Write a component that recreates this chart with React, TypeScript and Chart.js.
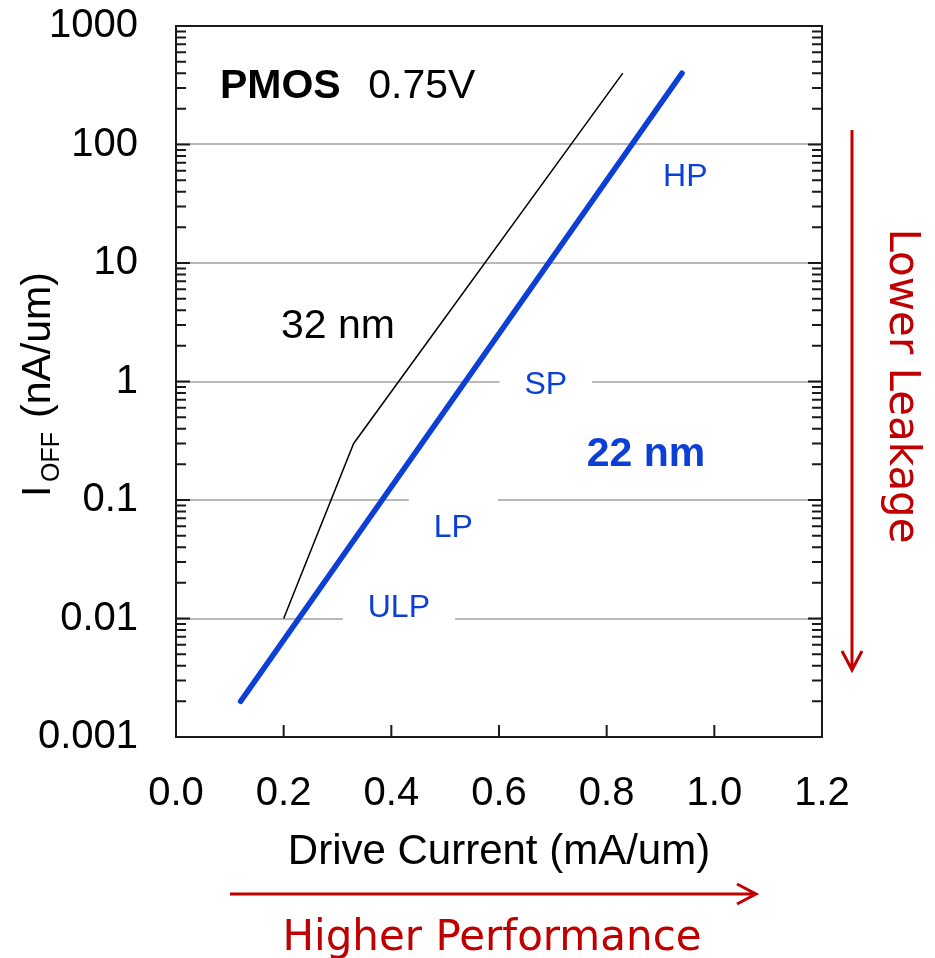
import React, { useEffect, useRef } from 'react';
import { Chart, registerables } from 'chart.js';

Chart.register(...registerables);

// ---- data ----
const xTicks = [0, 0.2, 0.4, 0.6, 0.8, 1.0, 1.2];
const yTicks = [0.001, 0.01, 0.1, 1, 10, 100, 1000];
const yTickLabels = ['0.001', '0.01', '0.1', '1', '10', '100', '1000'];

const drive32 = [0.2, 0.33, 0.83];
const ioff32 = [0.01, 0.3, 400];

const drive22 = [0.12, 0.94];
const ioff22 = [0.002, 400];

const optionLabels = ['ULP', 'LP', 'SP', 'HP'];
const optionX = [0.414, 0.515, 0.687, 0.946];
const optionY = [0.0123, 0.058, 0.93, 53];
const optionBreaksGrid = [0.01, 0.1, 1, null];

const BLUE = '#0b3fd6';
const RED = '#c00000';
const SANS = '"Liberation Sans", Arial, Helvetica, sans-serif';
const VERD = '"DejaVu Sans", Verdana, sans-serif';

const annotPlugin = {
  id: 'annot',
  beforeDatasetsDraw(chart: any) {
    const { ctx, scales } = chart;
    const x = scales.x, y = scales.y;
    ctx.save();
    ctx.fillStyle = '#ffffff';
    ctx.font = `32px ${SANS}`;
    optionLabels.forEach((t, i) => {
      const g = optionBreaksGrid[i];
      if (g == null) return;
      const cx = x.getPixelForValue(optionX[i]);
      const gy = y.getPixelForValue(g);
      const w = ctx.measureText(t).width + 50;
      ctx.fillRect(cx - w / 2, gy - 3, w, 6);
    });
    ctx.restore();
  },
  afterDatasetsDraw(chart: any) {
    const { ctx, chartArea, scales } = chart;
    const x = scales.x, y = scales.y;
    const { left, right, top, bottom } = chartArea;
    ctx.save();

    // frame
    ctx.strokeStyle = '#1a1a1a';
    ctx.lineWidth = 2;
    ctx.strokeRect(left, top, right - left, bottom - top);

    // y ticks (inside, both sides)
    ctx.beginPath();
    for (let d = 0; d < yTicks.length; d++) {
      const dec = yTicks[d];
      const py = y.getPixelForValue(dec);
      ctx.moveTo(left, py); ctx.lineTo(left + 14, py);
      ctx.moveTo(right, py); ctx.lineTo(right - 14, py);
      if (d < yTicks.length - 1) {
        for (let k = 2; k <= 9; k++) {
          const my = y.getPixelForValue(dec * k);
          ctx.moveTo(left, my); ctx.lineTo(left + 10, my);
          ctx.moveTo(right, my); ctx.lineTo(right - 10, my);
        }
      }
    }
    // x ticks (inside, bottom)
    xTicks.forEach((v) => {
      const px = x.getPixelForValue(v);
      ctx.moveTo(px, bottom); ctx.lineTo(px, bottom - 12);
    });
    ctx.stroke();

    // option labels
    ctx.fillStyle = BLUE;
    ctx.font = `32px ${SANS}`;
    ctx.textAlign = 'center';
    ctx.textBaseline = 'middle';
    optionLabels.forEach((t, i) => {
      ctx.fillText(t, x.getPixelForValue(optionX[i]), y.getPixelForValue(optionY[i]));
    });

    // 22 nm
    ctx.font = `bold 41px ${SANS}`;
    ctx.fillText('22 nm', x.getPixelForValue(0.873), y.getPixelForValue(0.24));

    // 32 nm
    ctx.fillStyle = '#000';
    ctx.font = `41px ${SANS}`;
    ctx.fillText('32 nm', x.getPixelForValue(0.301), y.getPixelForValue(2.88));

    // PMOS 0.75V
    ctx.textAlign = 'left';
    ctx.font = `bold 41px ${SANS}`;
    ctx.fillText('PMOS', x.getPixelForValue(0.0817), y.getPixelForValue(305));
    ctx.font = `41px ${SANS}`;
    ctx.fillText('0.75V', x.getPixelForValue(0.357), y.getPixelForValue(305));

    // x axis title
    ctx.textAlign = 'center';
    ctx.textBaseline = 'alphabetic';
    ctx.font = `42px ${SANS}`;
    ctx.fillText('Drive Current (mA/um)', (left + right) / 2, 864);

    // y axis title (rotated)
    ctx.save();
    ctx.translate(50, 497);
    ctx.rotate(-Math.PI / 2);
    ctx.textAlign = 'left';
    ctx.font = `41px ${SANS}`;
    ctx.fillText('I', 0, 0);
    ctx.font = `25px ${SANS}`;
    ctx.fillText('OFF', 15, 9);
    ctx.font = `41px ${SANS}`;
    ctx.fillText('(nA/um)', 79, 0);
    ctx.restore();

    // red arrows
    ctx.strokeStyle = RED;
    ctx.fillStyle = RED;
    ctx.lineWidth = 3;
    ctx.lineCap = 'butt';
    ctx.lineJoin = 'miter';
    ctx.beginPath();
    ctx.moveTo(230, 894); ctx.lineTo(755, 894);
    ctx.moveTo(737, 884); ctx.lineTo(756, 894); ctx.lineTo(737, 904);
    ctx.stroke();
    ctx.beginPath();
    ctx.moveTo(852, 130); ctx.lineTo(852, 669);
    ctx.moveTo(842, 651); ctx.lineTo(852, 670); ctx.lineTo(862, 651);
    ctx.stroke();

    ctx.font = `42px ${VERD}`;
    ctx.textAlign = 'center';
    ctx.textBaseline = 'alphabetic';
    ctx.fillText('Higher Performance', 492, 950);

    ctx.save();
    ctx.translate(890, 386);
    ctx.rotate(Math.PI / 2);
    ctx.textAlign = 'center';
    ctx.textBaseline = 'alphabetic';
    ctx.fillText('Lower Leakage', 0, 0);
    ctx.restore();

    ctx.restore();
  },
};

export default function App() {
  const ref = useRef<HTMLCanvasElement>(null);
  useEffect(() => {
    const canvas = ref.current!;
    const chart = new Chart(canvas, {
      type: 'line',
      data: {
        datasets: [
          {
            label: '32 nm',
            data: drive32.map((v, i) => ({ x: v, y: ioff32[i] })),
            borderColor: '#000000',
            borderWidth: 1.5,
            pointRadius: 0,
            tension: 0,
            fill: false,
          },
          {
            label: '22 nm',
            data: drive22.map((v, i) => ({ x: v, y: ioff22[i] })),
            borderColor: BLUE,
            borderWidth: 5.5,
            borderCapStyle: 'round',
            pointRadius: 0,
            tension: 0,
            fill: false,
          },
        ],
      },
      options: {
        responsive: false,
        animation: false,
        devicePixelRatio: 1,
        layout: { padding: { left: 0, right: 113, top: 26, bottom: 0 } },
        plugins: {
          legend: { display: false },
          tooltip: { enabled: false },
          title: { display: false },
        },
        scales: {
          x: {
            type: 'linear',
            min: 0,
            max: 1.2,
            afterBuildTicks: (s: any) => { s.ticks = xTicks.map((v) => ({ value: v })); },
            afterFit: (s: any) => { s.height = 221; s.paddingLeft = 0; s.paddingRight = 0; },
            grid: { display: false, drawTicks: false },
            border: { display: false },
            ticks: {
              padding: 33,
              color: '#000',
              font: { family: SANS, size: 40 },
              maxRotation: 0,
              autoSkip: false,
              callback: (v: any) => Number(v).toFixed(1),
            },
          },
          y: {
            type: 'logarithmic',
            min: 0.001,
            max: 1000,
            afterBuildTicks: (s: any) => { s.ticks = yTicks.map((v) => ({ value: v })); },
            afterFit: (s: any) => { s.width = 176; s.paddingTop = 0; s.paddingBottom = 0; },
            grid: { color: '#b8b8b8', lineWidth: 2, drawTicks: false },
            border: { display: false },
            ticks: {
              padding: 38,
              color: '#000',
              font: { family: SANS, size: 40 },
              autoSkip: false,
              callback: (_v: any, i: number) => yTickLabels[i],
            },
          },
        },
      },
      plugins: [annotPlugin],
    } as any);
    return () => chart.destroy();
  }, []);
  return (
    <canvas
      ref={ref}
      width={935}
      height={958}
      style={{ position: 'absolute', left: 0, top: 0, display: 'block', background: '#fff' }}
    />
  );
}
